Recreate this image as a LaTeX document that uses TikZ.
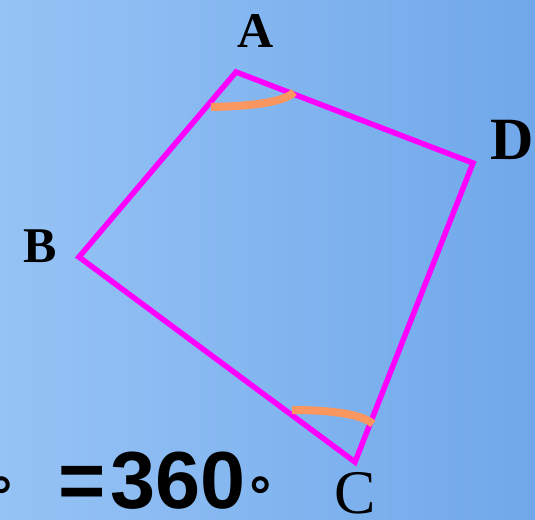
\documentclass[tikz,border=0pt]{standalone}
\usepackage{fontspec}
\setmainfont{Liberation Serif}
\newfontfamily\numfont{Liberation Sans}
\newfontfamily\symfont{DejaVu Sans}
\usetikzlibrary{positioning}
\definecolor{bgleft}{RGB}{150,195,245}
\definecolor{bgright}{RGB}{112,168,234}
\definecolor{edgemag}{RGB}{255,0,255}
\definecolor{arcorange}{RGB}{250,150,95}

\begin{document}
\begin{tikzpicture}[
    x=1pt, y=-1pt,
    vlabel/.style={inner sep=0pt, anchor=base, font=\fontsize{50}{50}\selectfont\bfseries},
    side/.style={draw=edgemag, line width=5.5pt, line join=miter},
    anglemark/.style={draw=arcorange, line width=8pt},
    sumtext/.style={inner sep=0pt, anchor=base west, font=\numfont\bfseries\fontsize{81}{81}\selectfont},
    ring/.style={inner sep=0pt, font=\symfont\bfseries\fontsize{52}{52}\selectfont}
]
\shade[left color=bgleft, right color=bgright] (0,0) rectangle (535,519);
\useasboundingbox (0,0) rectangle (535,519);

% corners of the quadrilateral
\coordinate (A) at (236,72);
\coordinate (B) at (79,257);
\coordinate (C) at (355,462);
\coordinate (D) at (473,163);

\node[vlabel] (la) at (256,48) {A};
\node[vlabel] (lb) at (40,262) {B};
\node[vlabel, font=\fontsize{60}{60}\selectfont\bfseries] (ld) at (512,159) {D};
\node[vlabel, font=\fontsize{62}{62}\selectfont] (lc) at (355,513) {C};

\draw[side] (A) -- (D) -- (C) -- (B) -- cycle;

% angle marks
\draw[anglemark] (211,107) .. controls (258,106) and (286,101) .. (294,92);
\draw[anglemark] (292,410) .. controls (330,410) and (362,414) .. (373,424);

\node[sumtext] (eq) at (58,508) {=};
\node[sumtext] (num) at (110,508) {360};
\node[ring] (deg) at (261,489) {∘};
\node[ring] (degl) at (2,489) {∘};
\end{tikzpicture}
\end{document}
